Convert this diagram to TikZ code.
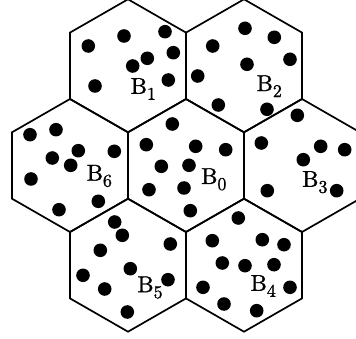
\documentclass[tikz,border=0pt]{standalone}
\usepackage{fontspec}
\usepackage{tikz}
\newfontfamily\labfont{lmroman10-regular.otf}[FakeBold=1.2]
\newcommand{\cellname}[1]{B\raisebox{-6pt}{\fontsize{18}{18}\selectfont #1}}

\begin{document}
\begin{tikzpicture}[x=1pt, y=-1pt,
  cell/.style={line width=1.7pt, line join=miter},
  lbl/.style={inner sep=0pt, font=\labfont\fontsize{23}{23}\selectfont},
]
\useasboundingbox (0,0) rectangle (356,339);
\clip (0,0) rectangle (356,339);
% cell centres
\coordinate (c1) at (128,65.8);
\coordinate (c2) at (244,65.8);
\coordinate (c6) at (70,165.5);
\coordinate (c0) at (186,165.5);
\coordinate (c3) at (302,165.5);
\coordinate (c5) at (128,265.2);
\coordinate (c4) at (244,265.2);
% hexagonal cells
\foreach \c in {c0,c1,c2,c3,c4,c5,c6}
  \draw[cell] (\c) +(0,-66.5) -- +(58,-33.2) -- +(58,33.2) -- +(0,66.5)
    -- +(-58,33.2) -- +(-58,-33.2) -- cycle;
% users
\foreach \x/\y in {88.3/46, 124/36, 165/31.7, 173.3/52.7, 147.3/58.3, 132.7/66, 95/86, 168.3/80,
  245/28.3, 274.3/37.3, 212.7/46, 290/59.3, 247/64.3, 197.7/76, 218.3/105, 267/109.3,
  30/134.7, 56/129.7, 52.3/158, 78.3/150.7, 70.7/165.3, 114.3/151.3, 31/179, 59/209.7, 98.3/201.3,
  172.3/124, 146.3/144.7, 195.7/146.3, 225.7/149.7, 161.3/166.3, 189/165.3, 149/189.7, 184/188, 190.3/210.7,
  297.3/115.3, 261.3/143, 320.7/146.3, 344.7/149.7, 303.3/159.7, 267.3/190.7, 336.7/190.7,
  114.7/222, 122.3/235.3, 100.3/250.3, 170.3/244, 83/275.3, 130.3/268.7, 104.7/289, 168/279.7, 127.3/312,
  238.3/218, 212.3/240.7, 262.3/239.7, 284/244.7, 222.3/263, 245/265.7, 274/264.7, 203/287.3, 290/287.3, 224/304, 256.7/310.7}
  \fill (\x,\y) circle[radius=6.8pt];
% cell labels
\node[lbl] (l1) at (143.3,89) {\cellname{1}};
\node[lbl] (l2) at (269.2,86.2) {\cellname{2}};
\node[lbl] (l6) at (99.3,176) {\cellname{6}};
\node[lbl] (l0) at (213.8,179.3) {\cellname{0}};
\node[lbl] (l3) at (314.8,182.2) {\cellname{3}};
\node[lbl] (l5) at (150,287.5) {\cellname{5}};
\node[lbl] (l4) at (263.2,286) {\cellname{4}};
\end{tikzpicture}
\end{document}
